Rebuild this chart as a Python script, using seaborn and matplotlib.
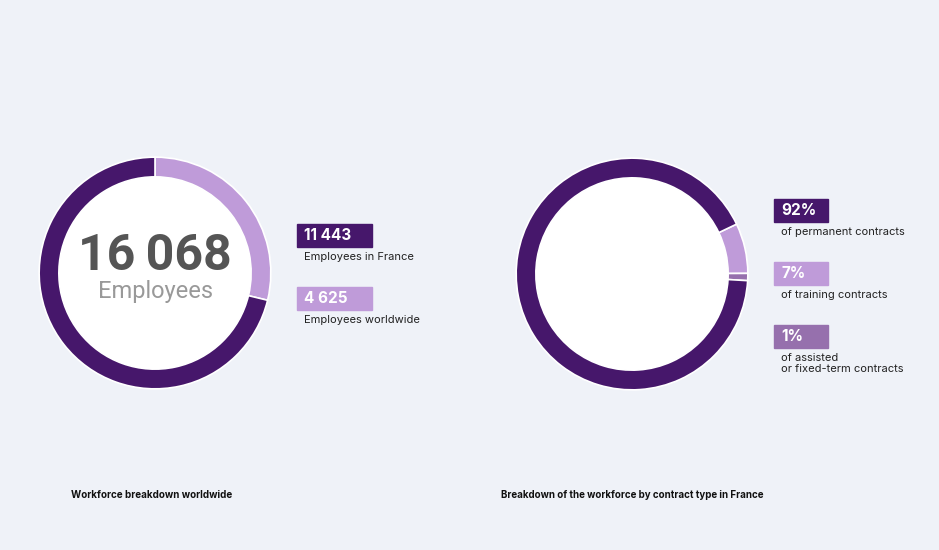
import matplotlib.pyplot as plt
import seaborn as sns
from matplotlib.patches import Rectangle

# data
world_labels = ['Employees worldwide', 'Employees in France']
world_values = [4625, 11443]
world_total = '16\u2009068'
world_box_text = ['11 443', '4 625']
world_box_desc = ['Employees in France', 'Employees worldwide']

contract_labels = ['training', 'assisted / fixed-term', 'permanent']
contract_values = [7, 1, 92]
contract_box_text = ['92%', '7%', '1%']
contract_box_desc = ['of permanent contracts', 'of training contracts',
                     'of assisted\nor fixed-term contracts']

dark = '#46176b'
light = '#bf9bd9'
mid = '#9670ad'
bg = '#eff2f8'

sns.set_theme(style='white')
plt.rcParams['font.family'] = ['Inter', 'DejaVu Sans']

W, H = 939, 550
fig = plt.figure(figsize=(W / 100, H / 100), dpi=100)
fig.patch.set_facecolor(bg)


def fx(x):
    return x / W


def fy(y):
    return 1 - y / H


def donut(cx, cy, r, values, colors, start):
    ax = fig.add_axes([fx(cx - r), fy(cy + r), 2 * r / W, 2 * r / H])
    ax.pie(values, colors=colors, startangle=start, counterclock=False,
           radius=1, wedgeprops=dict(width=0.17, edgecolor='white', linewidth=1.2))
    ax.add_patch(plt.Circle((0, 0), 0.83, color='white', zorder=0))
    ax.set_xlim(-1.01, 1.01)
    ax.set_ylim(-1.01, 1.01)
    ax.set_aspect('equal')
    ax.axis('off')
    return ax


# left donut
ax1 = donut(155, 273, 117, world_values, [light, dark], 90)
ax1.text(0, 0.14, world_total, ha='center', va='center', fontsize=36,
         fontweight='bold', color='#555555', family=['Roboto', 'DejaVu Sans'])
ax1.text(0, -0.16, 'Employees', ha='center', va='center', fontsize=17,
         color='#999999', family=['Roboto', 'DejaVu Sans'])

# right donut
ax2 = donut(632, 274, 117, contract_values, [light, mid, dark], 25.5)


def label_box(x, y, w, text, desc, color):
    fig.patches.append(Rectangle((fx(x), fy(y + 23)), w / W, 23 / H,
                                 transform=fig.transFigure, color=color))
    fig.text(fx(x + 7), fy(y + 11.5), text, ha='left', va='center',
             fontsize=11, fontweight='bold', color='white')
    fig.text(fx(x + 7), fy(y + 28), desc, ha='left', va='top',
             fontsize=8, color='#222222', linespacing=1.15)


label_box(297, 224, 75, world_box_text[0], world_box_desc[0], dark)
label_box(297, 287, 75, world_box_text[1], world_box_desc[1], light)

label_box(774, 199, 54, contract_box_text[0], contract_box_desc[0], dark)
label_box(774, 262, 54, contract_box_text[1], contract_box_desc[1], light)
label_box(774, 325, 54, contract_box_text[2], contract_box_desc[2], mid)

fig.text(fx(71), fy(495), 'Workforce breakdown worldwide', ha='left',
         va='center', fontsize=7.1, fontweight='bold', color='#111111')
fig.text(fx(501), fy(495), 'Breakdown of the workforce by contract type in France',
         ha='left', va='center', fontsize=7.0, fontweight='bold', color='#111111')

fig.savefig('out.png', dpi=100, facecolor=bg)
